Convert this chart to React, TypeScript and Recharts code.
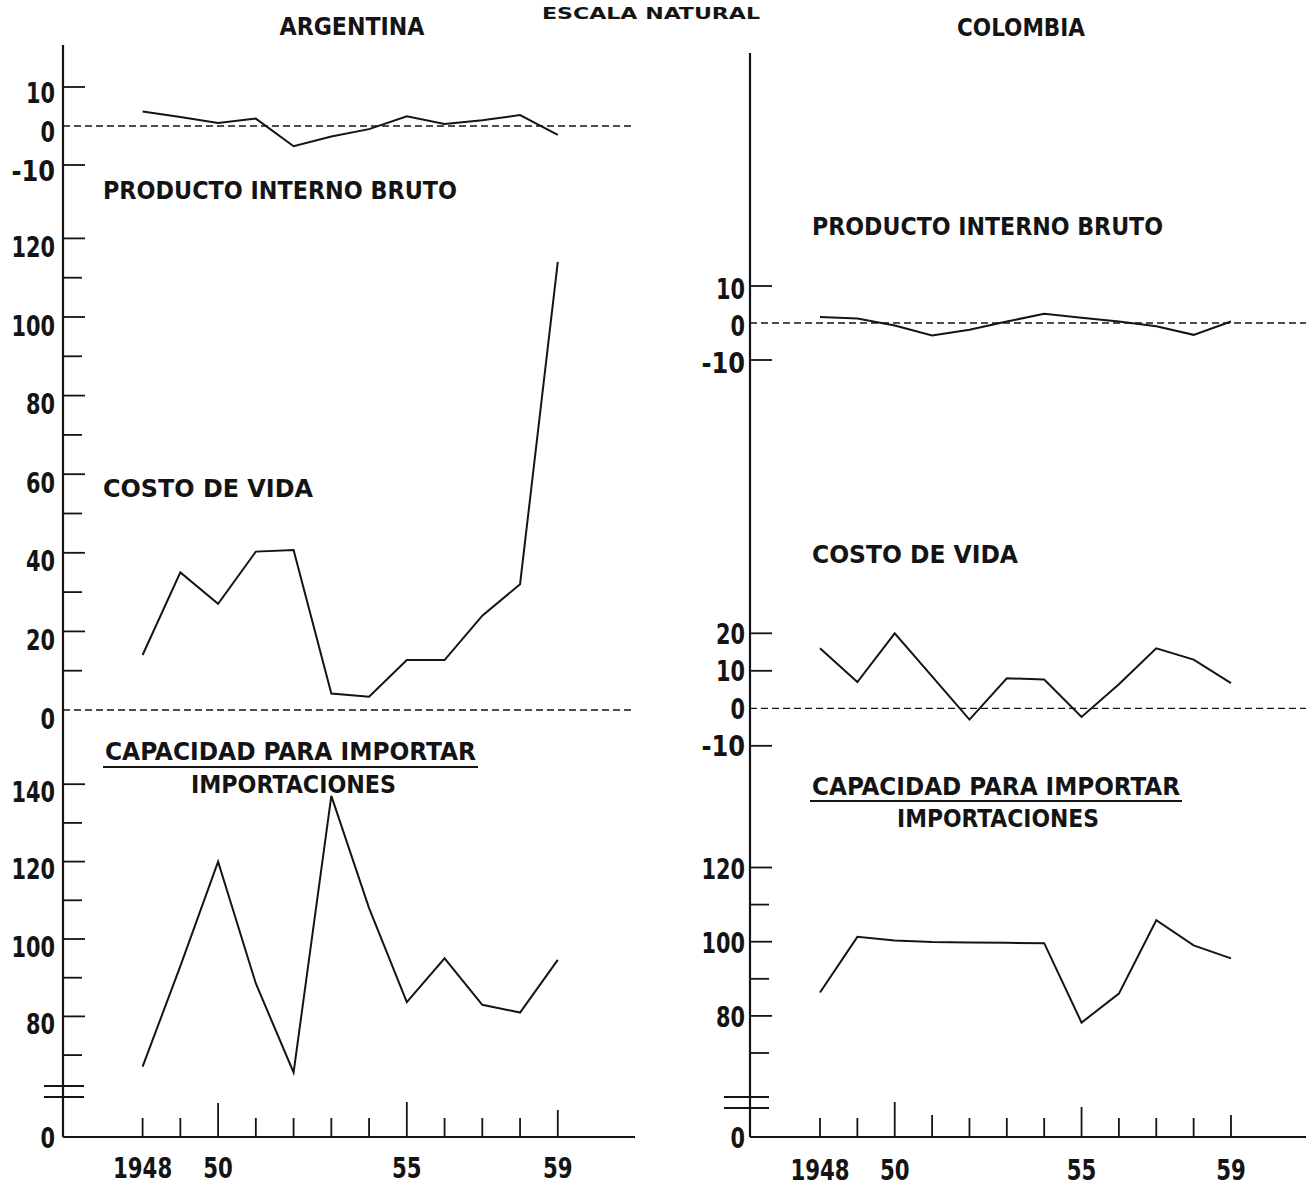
import React from 'react';
import { LineChart, Line, XAxis, YAxis, ReferenceLine } from 'recharts';

// años del eje horizontal
const years = [1948, 1949, 1950, 1951, 1952, 1953, 1954, 1955, 1956, 1957, 1958, 1959];
const yearLabels: Record<number, string> = { 1948: '1948', 1950: '50', 1955: '55', 1959: '59' };

// Argentina (variaciones anuales, %)
const argPib = [3.7, 2.3, 0.8, 1.9, -5.2, -2.7, -0.8, 2.5, 0.5, 1.5, 2.8, -2.3];
const argCosto = [14, 35, 27, 40.3, 40.7, 4.2, 3.4, 12.7, 12.7, 24, 32, 114];
const argCapacidad = [67, 93, 120, 88.5, 65.5, 137, 108, 83.7, 95, 83, 81, 94.6];

// Colombia
const colPib = [1.6, 1.2, -0.7, -3.4, -1.8, 0.4, 2.5, 1.4, 0.4, -0.9, -3.2, 0.4];
const colCosto = [16, 7, 20, 8.5, -3, 8, 7.7, -2.3, 6.4, 16, 13, 6.7];
const colCapacidad = [86.3, 101.3, 100.3, 99.9, 99.8, 99.7, 99.6, 78.2, 86, 105.8, 99, 95.5];

// tick values per band
const pibTicks = [-10, 0, 10];
const argCostoTicks = [0, 10, 20, 30, 40, 50, 60, 70, 80, 90, 100, 110, 120];
const argCostoLabels = [0, 20, 40, 60, 80, 100, 120];
const argCapTicks = [70, 80, 90, 100, 110, 120, 130, 140];
const argCapLabels = [80, 100, 120, 140];
const colCostoTicks = [-10, 0, 10, 20];
const colCapTicks = [70, 80, 90, 100, 110, 120];
const colCapLabels = [80, 100, 120];

const INK = '#141414';
const NUM_FONT = '"DejaVu Sans Condensed", "Liberation Sans Narrow", "DejaVu Sans", sans-serif';
const LABEL_FONT = '"DejaVu Sans Condensed", "DejaVu Sans", "Liberation Sans", sans-serif';
const PAGE_H = 1189;

interface Layout {
  left: number;
  width: number;
  axisWidth: number;
  plotRight: number;
  plotTop: number;
  plotBottom: number;
  firstYearPx: number;
  lastYearPx: number;
  frameRight: boolean;
  xLabelDy: number;
  breakLeft: number;
  breakRight: number;
  labelGap: number;
  longTicks: Record<number, number>;
}

interface Band {
  key: string;
  values: number[];
  anchor: number;
  anchorPx: number;
  pxPerUnit: number;
  ticks: number[];
  labels: number[];
  zeroLine: boolean;
  labelDy: number;
  breakPx?: number[];
  hasBase?: boolean;
}

const ARG: Layout = {
  left: 0, width: 660, axisWidth: 63, plotRight: 635, plotTop: 45, plotBottom: 1137,
  firstYearPx: 142.6, lastYearPx: 557.8, frameRight: true, xLabelDy: 41,
  breakLeft: 19, breakRight: 21, labelGap: 8,
  longTicks: { 1950: 34, 1955: 35, 1959: 27 },
};

const COL: Layout = {
  left: 680, width: 640, axisWidth: 70, plotRight: 1320, plotTop: 53, plotBottom: 1137,
  firstYearPx: 820, lastYearPx: 1231, frameRight: false, xLabelDy: 43,
  breakLeft: 26, breakRight: 19, labelGap: 5,
  longTicks: { 1950: 35, 1955: 30, 1951: 22, 1959: 22 },
};

const argBands: Band[] = [
  { key: 'pib', values: argPib, anchor: 0, anchorPx: 126, pxPerUnit: 3.9, ticks: pibTicks, labels: pibTicks, zeroLine: true, labelDy: 6 },
  { key: 'costo', values: argCosto, anchor: 0, anchorPx: 710, pxPerUnit: 3.93, ticks: argCostoTicks, labels: argCostoLabels, zeroLine: true, labelDy: 9 },
  { key: 'cap', values: argCapacidad, anchor: 100, anchorPx: 939, pxPerUnit: 3.87, ticks: argCapTicks, labels: argCapLabels, zeroLine: false, labelDy: 8, breakPx: [1086, 1097], hasBase: true },
];

const colBands: Band[] = [
  { key: 'pib', values: colPib, anchor: 0, anchorPx: 323, pxPerUnit: 3.7, ticks: pibTicks, labels: pibTicks, zeroLine: true, labelDy: 3 },
  { key: 'costo', values: colCosto, anchor: 0, anchorPx: 708.3, pxPerUnit: 3.75, ticks: colCostoTicks, labels: colCostoTicks, zeroLine: true, labelDy: 1 },
  { key: 'cap', values: colCapacidad, anchor: 100, anchorPx: 941.7, pxPerUnit: 3.71, ticks: colCapTicks, labels: colCapLabels, zeroLine: false, labelDy: 2, breakPx: [1097, 1108], hasBase: true },
];

const valueAt = (b: Band, px: number) => b.anchor + (b.anchorPx - px) / b.pxPerUnit;

const renderYTick = (p: any, band: Band, layout: Layout, base: number, breaks: number[]) => {
  const { x, y, payload } = p;
  const v = payload.value as number;
  if (breaks.some((b) => Math.abs(b - v) < 1e-6)) {
    return <line x1={x - layout.breakLeft} x2={x + layout.breakRight} y1={y} y2={y} stroke={INK} strokeWidth={1.8} />;
  }
  const isBase = band.hasBase && Math.abs(v - base) < 1e-6;
  const label = isBase ? '0' : band.labels.includes(v) ? String(v) : '';
  const len = isBase || (v === 0 && band.zeroLine) ? 0 : band.labels.includes(v) ? 22 : 19;
  return (
    <g>
      {len > 0 && <line x1={x} x2={x + len} y1={y} y2={y} stroke={INK} strokeWidth={1.8} />}
      {label && (
        <text
          x={x - layout.labelGap}
          y={y + (isBase ? 1 : band.labelDy)}
          textAnchor="end"
          dominantBaseline="central"
          fontFamily={NUM_FONT}
          fontSize={28}
          fontWeight={600}
          fill={INK}
          textLength={label.length * 14.5}
          lengthAdjust="spacingAndGlyphs"
        >
          {label}
        </text>
      )}
    </g>
  );
};

const renderXTick = (p: any, layout: Layout) => {
  const { x, y, payload } = p;
  const yr = payload.value as number;
  const len = layout.longTicks[yr] ?? 19;
  const lab = yearLabels[yr];
  return (
    <g>
      <line x1={x} x2={x} y1={y} y2={y - len} stroke={INK} strokeWidth={1.8} />
      {lab && (
        <text
          x={x}
          y={y + layout.xLabelDy}
          textAnchor="middle"
          fontFamily={NUM_FONT}
          fontSize={28}
          fontWeight={600}
          fill={INK}
          textLength={lab.length * 14.8}
          lengthAdjust="spacingAndGlyphs"
        >
          {lab}
        </text>
      )}
    </g>
  );
};

function Panel({ layout, bands }: { layout: Layout; bands: Band[] }) {
  const plotLeft = layout.left + layout.axisWidth;
  const perYear = (layout.lastYearPx - layout.firstYearPx) / (years.length - 1);
  const xDomain: [number, number] = [
    years[0] - (layout.firstYearPx - plotLeft) / perYear,
    years[years.length - 1] + (layout.plotRight - layout.lastYearPx) / perYear,
  ];
  const xAxisH = PAGE_H - layout.plotBottom;
  const rightMargin = layout.left + layout.width - layout.plotRight;
  const axisStyle = { stroke: INK, strokeWidth: 2.2 };

  return (
    <div style={{ position: 'absolute', left: layout.left, top: 0, width: layout.width, height: PAGE_H }}>
      {bands.map((band, bi) => {
        const rows = years.map((year, i) => ({ year, value: band.values[i] }));
        const isBaseChart = bi === 0;
        const yDomain: [number, number] = [valueAt(band, layout.plotBottom), valueAt(band, layout.plotTop)];
        const breaks = (band.breakPx ?? []).map((px) => valueAt(band, px));
        const ticks = [...band.ticks, ...breaks, ...(band.hasBase ? [yDomain[0]] : [])];
        return (
          <div key={band.key} style={{ position: 'absolute', left: 0, top: 0 }}>
            <LineChart
              width={layout.width}
              height={PAGE_H}
              data={rows}
              margin={{ top: layout.plotTop, right: rightMargin, left: 0, bottom: isBaseChart ? 0 : xAxisH }}
            >
              <XAxis
                dataKey="year"
                type="number"
                domain={xDomain}
                allowDataOverflow
                ticks={years}
                interval={0}
                hide={!isBaseChart}
                height={xAxisH}
                tickSize={0}
                tickMargin={0}
                tickLine={false}
                axisLine={axisStyle}
                tick={(p: any) => renderXTick(p, layout)}
              />
              {isBaseChart && (
                <XAxis xAxisId="top" orientation="top" height={0} type="number" domain={xDomain} tick={false} tickLine={false} axisLine={axisStyle} />
              )}
              {isBaseChart && layout.frameRight && (
                <YAxis yAxisId="right" orientation="right" width={0} tick={false} tickLine={false} axisLine={axisStyle} />
              )}
              <YAxis
                type="number"
                domain={yDomain}
                allowDataOverflow
                ticks={ticks}
                interval={0}
                width={layout.axisWidth}
                tickSize={0}
                tickMargin={0}
                tickLine={false}
                axisLine={isBaseChart ? axisStyle : false}
                tick={(p: any) => renderYTick(p, band, layout, yDomain[0], breaks)}
              />
              {band.zeroLine && <ReferenceLine y={0} stroke={INK} strokeWidth={1.3} strokeDasharray="7 4" />}
              <Line dataKey="value" type="linear" stroke={INK} strokeWidth={2} dot={false} isAnimationActive={false} />
            </LineChart>
          </div>
        );
      })}
    </div>
  );
}

const titles = [
  { t: 'ESCALA NATURAL', x: 651, y: 19, w: 218, a: 'middle', s: 16 },
  { t: 'ARGENTINA', x: 352, y: 35, w: 145, a: 'middle', s: 24 },
  { t: 'COLOMBIA', x: 1021, y: 36, w: 128, a: 'middle', s: 24 },
  { t: 'PRODUCTO INTERNO BRUTO', x: 103, y: 199, w: 354, a: 'start', s: 24 },
  { t: 'COSTO DE VIDA', x: 103, y: 497, w: 210, a: 'start', s: 24 },
  { t: 'CAPACIDAD PARA IMPORTAR', x: 105, y: 760, w: 371, a: 'start', s: 24 },
  { t: 'IMPORTACIONES', x: 191, y: 793, w: 205, a: 'start', s: 24 },
  { t: 'PRODUCTO INTERNO BRUTO', x: 812, y: 235, w: 351, a: 'start', s: 24 },
  { t: 'COSTO DE VIDA', x: 812, y: 563, w: 206, a: 'start', s: 24 },
  { t: 'CAPACIDAD PARA IMPORTAR', x: 812, y: 795, w: 368, a: 'start', s: 24 },
  { t: 'IMPORTACIONES', x: 897, y: 827, w: 202, a: 'start', s: 24 },
];

const underlines = [
  { x1: 103, x2: 478, y: 767 },
  { x1: 810, x2: 1182, y: 801 },
];

export default function App() {
  return (
    <div style={{ position: 'absolute', left: 0, top: 0, width: 1306, height: PAGE_H, overflow: 'hidden', background: '#fff' }}>
      <Panel layout={ARG} bands={argBands} />
      <Panel layout={COL} bands={colBands} />
      <svg width={1306} height={PAGE_H} style={{ position: 'absolute', left: 0, top: 0, pointerEvents: 'none' }}>
        {titles.map((d, i) => (
          <text
            key={i}
            x={d.x}
            y={d.y}
            textAnchor={d.a as any}
            fontFamily={LABEL_FONT}
            fontSize={d.s}
            fontWeight={600}
            fill={INK}
            textLength={d.w}
            lengthAdjust="spacingAndGlyphs"
          >
            {d.t}
          </text>
        ))}
        {underlines.map((u, i) => (
          <line key={i} x1={u.x1} x2={u.x2} y1={u.y} y2={u.y} stroke={INK} strokeWidth={2} />
        ))}
      </svg>
    </div>
  );
}
